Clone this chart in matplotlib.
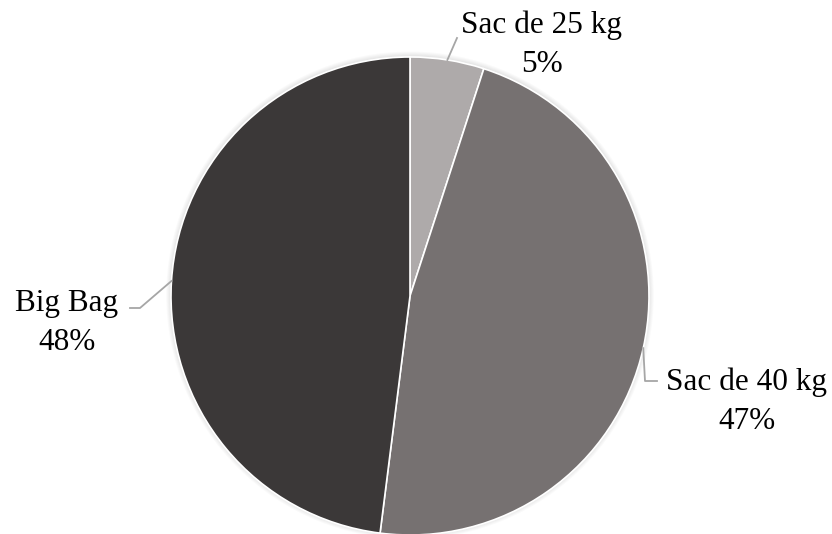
import numpy as np
import matplotlib.pyplot as plt
from matplotlib.patches import Circle

# Chart data
labels = ["Sac de 25 kg", "Sac de 40 kg", "Big Bag"]
shares = [5, 47, 48]
colors = ["#aeaaaa", "#767171", "#3b3838"]

# Label text positions (pixels) and leader elbow (pixels)
W, H = 832, 534
CX, CY, R = 410, 296, 239
text_px = [(542, 45), (747, 402), (67, 323)]
elbow_px = [(457, 38), (645, 381), (140, 308)]
end_px = [(457, 38), (657, 381), (130, 308)]


def to_data(p):
    """Converts a pixel position into data coordinates."""
    return ((p[0] - CX) / R, (CY - p[1]) / R)


def main():
    plt.rcParams['font.family'] = ['Liberation Serif', 'DejaVu Serif']
    fig = plt.figure(figsize=(W / 100, H / 100), dpi=100)
    ax = fig.add_axes([0, 0, 1, 1])

    # Soft shadow round the pie
    for i in range(5):
        ax.add_patch(Circle((0, 0.003), 1.0 + 0.004 * (i + 1),
                            color="#000000", alpha=0.02, lw=0, zorder=0))

    wedges, _ = ax.pie(shares, colors=colors, startangle=90,
                       counterclock=False, radius=1.0,
                       wedgeprops=dict(edgecolor="white", linewidth=1.2))
    for w in wedges:
        w.set_zorder(2)

    # Labels with leader lines
    for w, lab, s, t, e, f in zip(wedges, labels, shares, text_px,
                                  elbow_px, end_px):
        ang = np.deg2rad((w.theta1 + w.theta2) / 2)
        start = (np.cos(ang), np.sin(ang))
        pts = [start, to_data(e), to_data(f)]
        ax.plot([p[0] for p in pts], [p[1] for p in pts],
                color="#a6a6a6", lw=1.3, zorder=3)
        tx, ty = to_data(t)
        ax.text(tx, ty, f"{lab}\n{s}%", ha="center", va="center",
                fontsize=22.5, linespacing=1.45, color="#000000", zorder=4)

    ax.set_aspect("auto")
    ax.set_xlim(-CX / R, (W - CX) / R)
    ax.set_ylim(-(H - CY) / R, CY / R)
    ax.axis("off")

    fig.savefig("out.png", dpi=100)


if __name__ == "__main__":
    main()
